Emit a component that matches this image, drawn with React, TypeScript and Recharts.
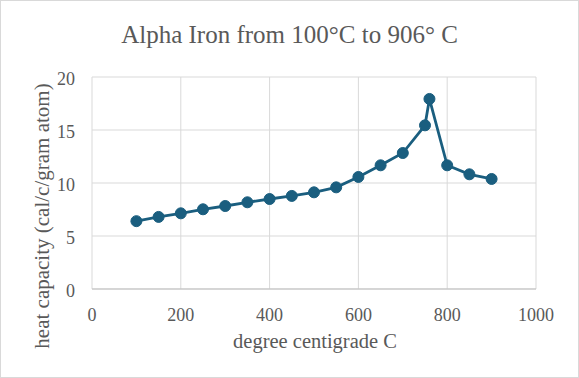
import { LineChart, Line, XAxis, YAxis, CartesianGrid, Label } from 'recharts';

const temps = [100, 150, 200, 250, 300, 350, 400, 450, 500, 550, 600, 650, 700, 750, 760, 800, 850, 900];
const heatCapacity = [6.4, 6.8, 7.14, 7.52, 7.83, 8.18, 8.49, 8.78, 9.12, 9.59, 10.57, 11.67, 12.83, 15.44, 17.93, 11.67, 10.82, 10.38];
const xTicks = [0, 200, 400, 600, 800, 1000];
const yTicks = [0, 5, 10, 15, 20];

const data = temps.map((t, i) => ({ t, c: heatCapacity[i] }));

const FONT = "'Liberation Serif', serif";
const GRAY = '#595959';
const BLUE = '#1a5e7f';

// axis titles drawn at fixed spots, like Excel does
const XTitle = () => (
  <text x={314} y={347} textAnchor="middle" fill={GRAY} fontSize={20.5} fontFamily={FONT}>
    degree centigrade C
  </text>
);

const YTitle = () => (
  <text
    x={41}
    y={215}
    transform="rotate(-90 41 215)"
    textAnchor="middle"
    dominantBaseline="central"
    fill={GRAY}
    fontSize={21}
    fontFamily={FONT}
  >
    heat capacity (cal/c/gram atom)
  </text>
);

export default function App() {
  return (
    <div
      className="chart-box"
      style={{
        position: 'fixed',
        left: 0,
        top: 0,
        width: 579,
        height: 378,
        boxSizing: 'border-box',
        border: '1px solid #d9d9d9',
        background: '#fff',
        fontFamily: FONT,
      }}
    >
      <style>{`.chart-box text, .chart-box tspan { font-family: 'Liberation Serif', serif !important; }`}</style>
      <div
        style={{
          position: 'absolute',
          left: 0,
          width: 577,
          top: 21,
          lineHeight: '25px',
          textAlign: 'center',
          fontSize: 25,
          color: GRAY,
          whiteSpace: 'nowrap',
        }}
      >
        Alpha Iron from 100°C to 906° C
      </div>
      <LineChart
        width={577}
        height={376}
        data={data}
        margin={{ top: 76, right: 42, bottom: 0, left: 0 }}
        style={{ position: 'absolute', left: 0, top: 0 }}
      >
        <CartesianGrid stroke="#d9d9d9" strokeWidth={1} />
        <XAxis
          type="number"
          dataKey="t"
          domain={[0, 1000]}
          ticks={xTicks}
          height={88}
          axisLine={{ stroke: '#bfbfbf' }}
          tickLine={false}
          tick={{ fill: GRAY, fontSize: 18, fontFamily: FONT }}
          tickMargin={13}
        >
          <Label content={<XTitle />} />
        </XAxis>
        <YAxis
          type="number"
          domain={[0, 20]}
          ticks={yTicks}
          width={91}
          axisLine={false}
          tickLine={false}
          tick={{ fill: GRAY, fontSize: 18, fontFamily: FONT, dy: 2 }}
          tickMargin={11}
        >
          <Label content={<YTitle />} />
        </YAxis>
        <Line
          type="linear"
          dataKey="c"
          stroke={BLUE}
          strokeWidth={2.8}
          dot={{ r: 5.5, fill: BLUE, stroke: BLUE, strokeWidth: 1 }}
          isAnimationActive={false}
        />
      </LineChart>
    </div>
  );
}
